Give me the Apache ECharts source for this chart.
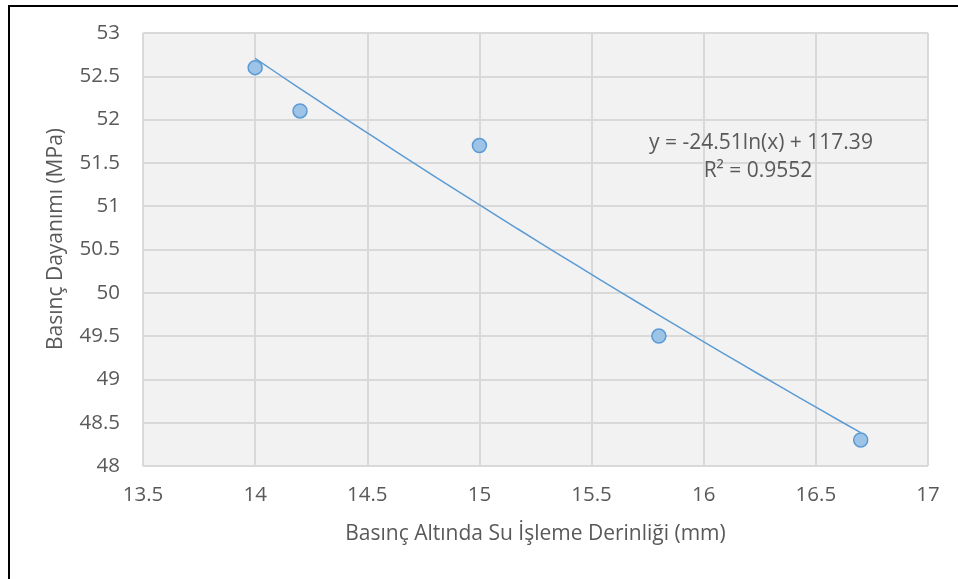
<!DOCTYPE html>
<html>
<head>
<meta charset="utf-8">
<script src="https://cdn.jsdelivr.net/npm/echarts@6/dist/echarts.min.js"></script>
<style>
  html, body { margin: 0; padding: 0; background: #ffffff; }
  #chart { width: 958px; height: 579px; }
</style>
</head>
<body>
<div id="chart"></div>
<script>
// Measured samples: water penetration depth (mm) vs compressive strength (MPa)
const depthMm = [14.0, 14.2, 15.0, 15.8, 16.7];
const strengthMPa = [52.6, 52.1, 51.7, 49.5, 48.3];

// Logarithmic trendline coefficients: y = a*ln(x) + b
const trendA = -24.51;
const trendB = 117.39;
const trendR2 = 0.9552;

// Axis ranges and tick steps
const xMin = 13.5, xMax = 17, xStep = 0.5;
const yMin = 48, yMax = 53, yStep = 0.5;

const xTitle = 'Basınç Altında Su İşleme Derinliği (mm)';
const yTitle = 'Basınç Dayanımı (MPa)';

// Trendline evaluated across the measured depth range
const trendSteps = 30;
const trendPts = [];
const xFirst = Math.min(...depthMm), xLast = Math.max(...depthMm);
for (let i = 0; i <= trendSteps; i++) {
  const x = xFirst + (xLast - xFirst) * i / trendSteps;
  trendPts.push([x, trendA * Math.log(x) + trendB]);
}

const FONT = '"Open Sans", sans-serif';
const TXT = '#595959';

const chart = echarts.init(document.getElementById('chart'), null, { renderer: 'canvas' });
chart.setOption({
  animation: false,
  backgroundColor: '#ffffff',
  grid: {
    left: 143, top: 33, right: 30, bottom: 113,
    show: true, backgroundColor: '#f2f2f2', borderColor: '#d9d9d9', borderWidth: 1
  },
  xAxis: {
    type: 'value', min: xMin, max: xMax, interval: xStep,
    name: xTitle, nameLocation: 'middle', nameGap: 58,
    nameTextStyle: { fontFamily: FONT, fontSize: 21, color: TXT },
    axisLine: { show: false }, axisTick: { show: false },
    axisLabel: { fontFamily: FONT, fontSize: 20.5, color: TXT, margin: 19 },
    splitLine: { show: true, lineStyle: { color: '#d9d9d9', width: 2 } }
  },
  yAxis: {
    type: 'value', min: yMin, max: yMax, interval: yStep,
    axisLine: { show: false }, axisTick: { show: false },
    axisLabel: { fontFamily: FONT, fontSize: 20.5, color: TXT, margin: 23 },
    splitLine: { show: true, lineStyle: { color: '#d9d9d9', width: 2 } }
  },
  series: [
    {
      type: 'line', data: trendPts, showSymbol: false, smooth: false,
      lineStyle: { color: '#5b9bd5', width: 1.5 }, z: 2, silent: true
    },
    {
      type: 'scatter', data: depthMm.map((x, i) => [x, strengthMPa[i]]),
      symbol: 'circle', symbolSize: 14,
      itemStyle: { color: '#9dc3e6', borderColor: '#5b9bd5', borderWidth: 1.5, opacity: 1 },
      z: 3
    }
  ],
  graphic: [
    {
      type: 'rect', shape: { x: 9, y: 6, width: 1000, height: 700 },
      style: { fill: 'none', stroke: '#000000', lineWidth: 2 }, silent: true, z: 10
    },
    {
      type: 'text', x: 56, y: 239, rotation: Math.PI / 2,
      style: {
        text: yTitle, fontFamily: FONT, fontSize: 21, fill: TXT,
        align: 'center', verticalAlign: 'middle'
      }, z: 5
    },
    {
      type: 'text', x: 761, y: 143,
      style: {
        text: 'y = ' + trendA.toFixed(2) + 'ln(x) + ' + trendB.toFixed(2),
        fontFamily: FONT, fontSize: 21, fill: TXT, align: 'center', verticalAlign: 'middle'
      }, z: 5
    },
    {
      type: 'text', x: 758, y: 171,
      style: {
        text: 'R² = ' + trendR2.toFixed(4),
        fontFamily: FONT, fontSize: 21, fill: TXT, align: 'center', verticalAlign: 'middle'
      }, z: 5
    }
  ]
});
</script>
</body>
</html>
